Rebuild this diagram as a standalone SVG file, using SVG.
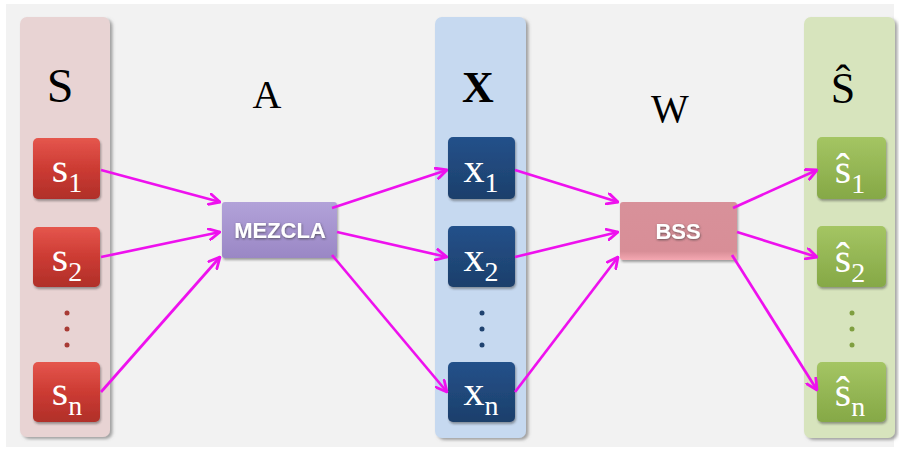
<svg xmlns="http://www.w3.org/2000/svg" width="899" height="450" viewBox="0 0 899 450">
  <defs>
    <linearGradient id="gRed" x1="0" y1="0" x2="0" y2="1">
      <stop offset="0" stop-color="#e5564d"/>
      <stop offset="0.5" stop-color="#cc3b33"/>
      <stop offset="1" stop-color="#b02f29"/>
    </linearGradient>
    <linearGradient id="gBlue" x1="0" y1="0" x2="0" y2="1">
      <stop offset="0" stop-color="#24518a"/>
      <stop offset="1" stop-color="#1c3f6b"/>
    </linearGradient>
    <linearGradient id="gGreen" x1="0" y1="0" x2="0" y2="1">
      <stop offset="0" stop-color="#a4c563"/>
      <stop offset="1" stop-color="#85a846"/>
    </linearGradient>
    <linearGradient id="gPurple" x1="0" y1="0" x2="0" y2="1">
      <stop offset="0" stop-color="#b2a2d9"/>
      <stop offset="1" stop-color="#9a87c5"/>
    </linearGradient>
    <linearGradient id="gPink" x1="0" y1="0" x2="0" y2="1">
      <stop offset="0" stop-color="#d8919a"/>
      <stop offset="0.85" stop-color="#d88e97"/>
      <stop offset="1" stop-color="#f5a8b2"/>
    </linearGradient>
    <filter id="shadow" x="-10%" y="-10%" width="130%" height="130%">
      <feDropShadow dx="2.5" dy="2" stdDeviation="1.5" flood-color="#6b6b6b" flood-opacity="0.6"/>
    </filter>
    <filter id="bshadow" x="-10%" y="-10%" width="130%" height="130%">
      <feDropShadow dx="1" dy="2" stdDeviation="1.2" flood-color="#333333" flood-opacity="0.45"/>
    </filter>
    <filter id="tshadow" x="-10%" y="-20%" width="130%" height="150%">
      <feDropShadow dx="0.5" dy="1" stdDeviation="0.8" flood-color="#303030" flood-opacity="0.7"/>
    </filter>
    <marker id="arr" viewBox="0 0 12 12" refX="11" refY="6" markerWidth="13" markerHeight="13" markerUnits="userSpaceOnUse" orient="auto">
      <path d="M1,1 L11,6 L1,11" fill="none" stroke="#ee11ee" stroke-width="2.6" stroke-linecap="round" stroke-linejoin="round"/>
    </marker>
  </defs>
  <style>
    .panel { filter: url(#shadow); }
    .box { filter: url(#bshadow); }
    .head { font-family: "Liberation Serif", "Times New Roman", serif; fill: #000; text-anchor: middle; }
    .var { font-family: "Liberation Serif", "Times New Roman", serif; fill: #ffffff; text-anchor: middle; font-size: 42px; }
    .sub { font-size: 28px; }
    .lab { font-family: "Liberation Sans", Arial, sans-serif; font-weight: bold; fill: #ffffff; text-anchor: middle; font-size: 22px; filter: url(#tshadow); }
    .conn { stroke: #ee11ee; stroke-width: 2.7; fill: none; marker-end: url(#arr); }
  </style>

  <rect x="0" y="0" width="899" height="450" fill="#ffffff"/>
  <rect x="6" y="4" width="888" height="443" fill="#f2f2f2"/>

  <!-- S panel -->
  <g id="panel-S">
    <rect class="panel" x="20" y="17" width="90" height="420" rx="7" fill="#e8d3d3"/>
    <text class="head" x="60" y="102" font-size="48">S</text>
    <circle cx="67" cy="313" r="2.5" fill="#a83a34"/>
    <circle cx="67" cy="329" r="2.5" fill="#a83a34"/>
    <circle cx="67" cy="345" r="2.5" fill="#a83a34"/>
  </g>
  <g id="s1">
    <rect class="box" x="33" y="138" width="67" height="61" rx="5" fill="url(#gRed)"/>
    <text class="var" x="67" y="182">s<tspan class="sub" dy="10">1</tspan></text>
  </g>
  <g id="s2">
    <rect class="box" x="33" y="227" width="67" height="60" rx="5" fill="url(#gRed)"/>
    <text class="var" x="67" y="271">s<tspan class="sub" dy="10">2</tspan></text>
  </g>
  <g id="sn">
    <rect class="box" x="33" y="362" width="67" height="60" rx="5" fill="url(#gRed)"/>
    <text class="var" x="67" y="405">s<tspan class="sub" dy="10">n</tspan></text>
  </g>

  <!-- A label and MEZCLA -->
  <g id="label-A">
    <text class="head" x="267" y="108" font-size="40">A</text>
  </g>
  <g id="mezcla">
    <rect class="box" x="222" y="202" width="115" height="56" rx="3" fill="url(#gPurple)"/>
    <text class="lab" x="280" y="238">MEZCLA</text>
  </g>

  <!-- X panel -->
  <g id="panel-X">
    <rect class="panel" x="435" y="17" width="91" height="421" rx="7" fill="#c6d9f0"/>
    <text class="head" x="478" y="102" font-size="44" font-weight="bold">X</text>
    <circle cx="482" cy="313" r="2.5" fill="#1f426f"/>
    <circle cx="482" cy="329" r="2.5" fill="#1f426f"/>
    <circle cx="482" cy="345" r="2.5" fill="#1f426f"/>
  </g>
  <g id="x1">
    <rect class="box" x="448" y="137" width="67" height="62" rx="5" fill="url(#gBlue)"/>
    <text class="var" x="481" y="182">x<tspan class="sub" dy="10">1</tspan></text>
  </g>
  <g id="x2">
    <rect class="box" x="448" y="226" width="67" height="61" rx="5" fill="url(#gBlue)"/>
    <text class="var" x="481" y="271">x<tspan class="sub" dy="10">2</tspan></text>
  </g>
  <g id="xn">
    <rect class="box" x="448" y="362" width="67" height="60" rx="5" fill="url(#gBlue)"/>
    <text class="var" x="481" y="405">x<tspan class="sub" dy="10">n</tspan></text>
  </g>

  <!-- W label and BSS -->
  <g id="label-W">
    <text class="head" x="670" y="122" font-size="40">W</text>
  </g>
  <g id="bss">
    <rect class="box" x="620" y="202" width="117" height="58" rx="3" fill="url(#gPink)"/>
    <text class="lab" x="678" y="239">BSS</text>
  </g>

  <!-- S-hat panel -->
  <g id="panel-Shat">
    <rect class="panel" x="804" y="17" width="91" height="421" rx="7" fill="#d7e4bd"/>
    <text class="head" x="843" y="103" font-size="44">Ŝ</text>
    <circle cx="852" cy="313" r="2.5" fill="#7f9f40"/>
    <circle cx="852" cy="329" r="2.5" fill="#7f9f40"/>
    <circle cx="852" cy="345" r="2.5" fill="#7f9f40"/>
  </g>
  <g id="shat1">
    <rect class="box" x="817" y="137" width="69" height="62" rx="5" fill="url(#gGreen)"/>
    <text class="var" x="850" y="183">ŝ<tspan class="sub" dy="10">1</tspan></text>
  </g>
  <g id="shat2">
    <rect class="box" x="817" y="226" width="69" height="61" rx="5" fill="url(#gGreen)"/>
    <text class="var" x="850" y="272">ŝ<tspan class="sub" dy="10">2</tspan></text>
  </g>
  <g id="shatn">
    <rect class="box" x="817" y="362" width="69" height="60" rx="5" fill="url(#gGreen)"/>
    <text class="var" x="850" y="406">ŝ<tspan class="sub" dy="10">n</tspan></text>
  </g>

  <!-- connectors -->
  <g id="connectors">
    <line class="conn" x1="101" y1="170" x2="220" y2="202"/>
    <line class="conn" x1="101" y1="257" x2="220" y2="232"/>
    <line class="conn" x1="101" y1="392" x2="220" y2="257"/>
    <line class="conn" x1="332" y1="208" x2="447" y2="170"/>
    <line class="conn" x1="337" y1="232" x2="447" y2="257"/>
    <line class="conn" x1="332" y1="255" x2="447" y2="392"/>
    <line class="conn" x1="515" y1="170" x2="618" y2="202"/>
    <line class="conn" x1="515" y1="257" x2="618" y2="232"/>
    <line class="conn" x1="515" y1="392" x2="618" y2="257"/>
    <line class="conn" x1="733" y1="208" x2="817" y2="170"/>
    <line class="conn" x1="737" y1="232" x2="817" y2="257"/>
    <line class="conn" x1="732" y1="255" x2="817" y2="390"/>
  </g>
</svg>
